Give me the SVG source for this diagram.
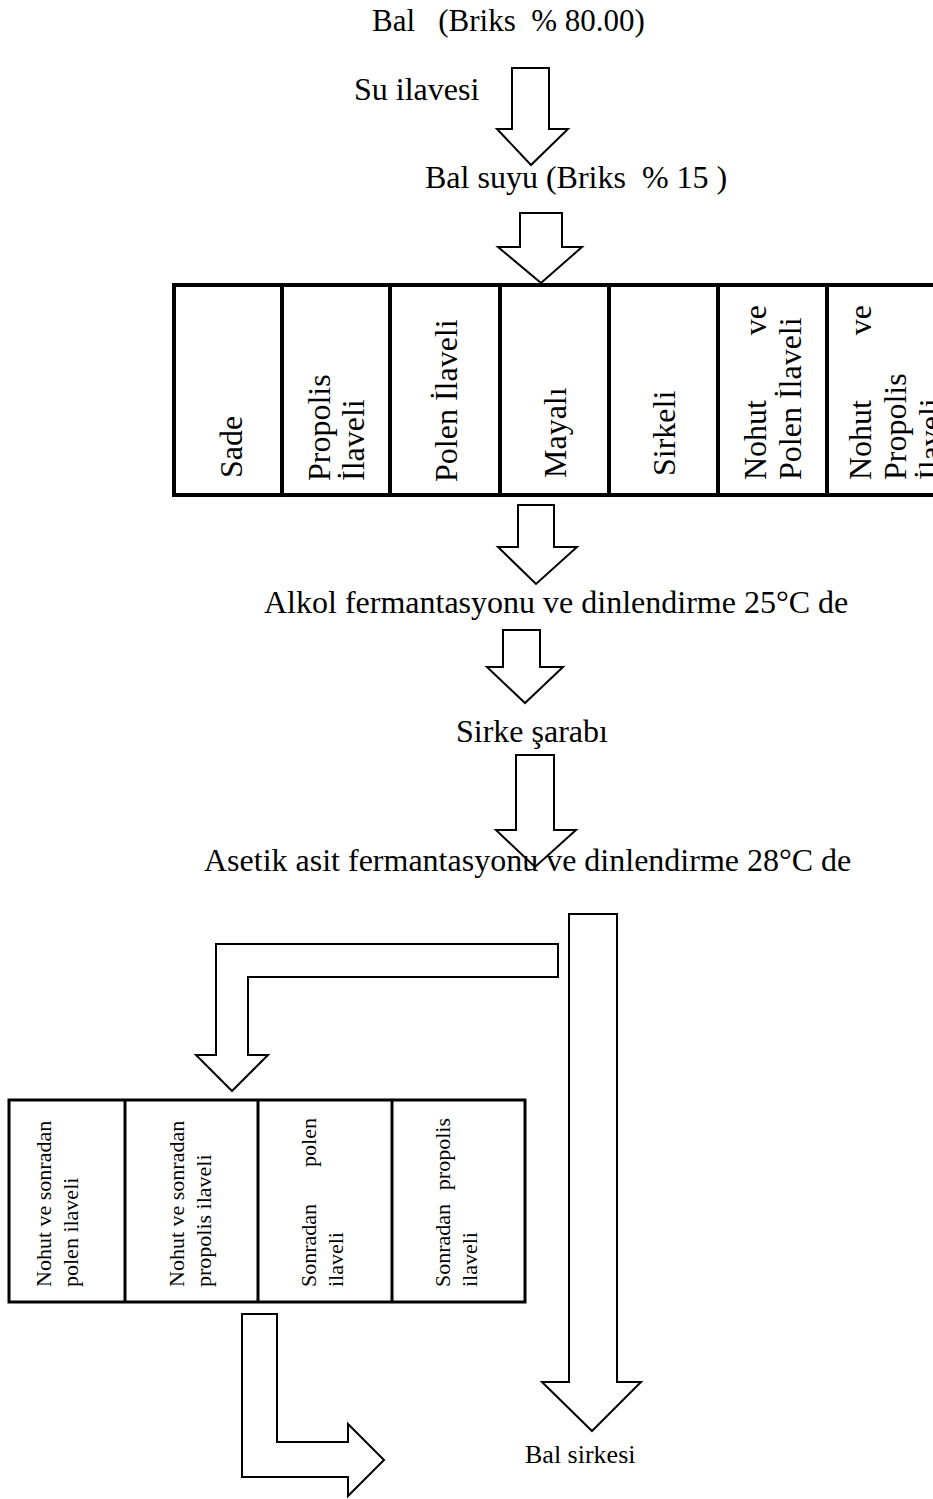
<svg xmlns="http://www.w3.org/2000/svg" width="933" height="1499" viewBox="0 0 933 1499">
<style>
  .t { font-family: "Liberation Serif", "Times New Roman", serif; fill: #000; }
  .lg { font-size: 32px; }
  .tt { font-size: 31px; }
  .sm { font-size: 26px; }
  .cell { font-size: 32px; }
  .bcell { font-size: 22px; }
  .arrow { fill: #fff; stroke: #000; stroke-width: 2; stroke-linejoin: miter; }
  .tbl { fill: #fff; stroke: #000; stroke-width: 4; }
  .tbl2 { fill: #fff; stroke: #000; stroke-width: 3; }
  .div { stroke: #000; stroke-width: 4; }
  .div2 { stroke: #000; stroke-width: 3; }
</style>
<rect x="0" y="0" width="933" height="1499" fill="#fff"/>

<g id="connectors">
  <path class="arrow" d="M512,68 L549,68 L549,129 L568,129 L531,165 L497,129 L512,129 Z"/>
  <path class="arrow" d="M520,213 L562,213 L562,247 L582,247 L541,283 L498,247 L520,247 Z"/>
  <path class="arrow" d="M518,505 L554,505 L554,547 L577,547 L536,584 L498,547 L518,547 Z"/>
  <path class="arrow" d="M503,630 L540,630 L540,667 L563,667 L525,703 L487,667 L503,667 Z"/>
  <path class="arrow" d="M516,755 L554,755 L554,830 L576,830 L535,867 L496,830 L516,830 Z"/>
  <path class="arrow" d="M569,914 L617,914 L617,1382 L641,1382 L592,1431 L542,1382 L569,1382 Z"/>
  <path class="arrow" d="M558,944 L216,944 L216,1055 L196,1055 L232,1091 L268,1055 L248,1055 L248,977 L558,977 Z"/>
  <path class="arrow" d="M242,1314 L277,1314 L277,1442 L348,1442 L348,1424 L384,1460 L348,1496 L348,1477 L242,1477 Z"/>
</g>

<g id="bal">
  <text class="t tt" x="372" y="31" xml:space="preserve">Bal   (Briks  % 80.00)</text>
</g>
<g id="su-ilavesi">
  <text class="t lg" x="354" y="100">Su ilavesi</text>
</g>
<g id="bal-suyu">
  <text class="t lg" x="425" y="188" xml:space="preserve">Bal suyu (Briks  % 15 )</text>
</g>

<g id="top-table">
  <rect class="tbl" x="174" y="285" width="764" height="210"/>
  <line class="div" x1="282" y1="285" x2="282" y2="495"/>
  <line class="div" x1="390" y1="285" x2="390" y2="495"/>
  <line class="div" x1="500" y1="285" x2="500" y2="495"/>
  <line class="div" x1="609" y1="285" x2="609" y2="495"/>
  <line class="div" x1="718" y1="285" x2="718" y2="495"/>
  <line class="div" x1="827" y1="285" x2="827" y2="495"/>
  <g id="c-sade"><text class="t cell" transform="translate(242,478) rotate(-90)">Sade</text></g>
  <g id="c-propolis">
    <text class="t cell" transform="translate(330,481) rotate(-90)">Propolis</text>
    <text class="t cell" transform="translate(364,481) rotate(-90)">İlaveli</text>
  </g>
  <g id="c-polen"><text class="t cell" transform="translate(457,482) rotate(-90)">Polen İlaveli</text></g>
  <g id="c-mayali"><text class="t cell" transform="translate(566,478) rotate(-90)">Mayalı</text></g>
  <g id="c-sirkeli"><text class="t cell" transform="translate(675,476) rotate(-90)">Sirkeli</text></g>
  <g id="c-nohut-polen">
    <text class="t cell" transform="translate(766,480) rotate(-90)">Nohut</text>
    <text class="t cell" text-anchor="end" transform="translate(766,305) rotate(-90)">ve</text>
    <text class="t cell" transform="translate(801,480) rotate(-90)">Polen İlaveli</text>
  </g>
  <g id="c-nohut-propolis">
    <text class="t cell" transform="translate(871,480) rotate(-90)">Nohut</text>
    <text class="t cell" text-anchor="end" transform="translate(871,305) rotate(-90)">ve</text>
    <text class="t cell" transform="translate(906,480) rotate(-90)">Propolis</text>
    <text class="t cell" transform="translate(941,480) rotate(-90)">İlaveli</text>
  </g>
</g>

<g id="alkol">
  <text class="t lg" x="264" y="613">Alkol fermantasyonu ve dinlendirme 25°C de</text>
</g>
<g id="sirke-sarabi">
  <text class="t lg" x="456" y="742">Sirke şarabı</text>
</g>
<g id="asetik">
  <text class="t lg" x="204" y="871">Asetik asit fermantasyonu ve dinlendirme 28°C de</text>
</g>

<g id="bottom-table">
  <rect class="tbl2" x="9" y="1100" width="516" height="202"/>
  <line class="div2" x1="125" y1="1100" x2="125" y2="1302"/>
  <line class="div2" x1="258" y1="1100" x2="258" y2="1302"/>
  <line class="div2" x1="392" y1="1100" x2="392" y2="1302"/>
  <g id="b-nohut-polen">
    <text class="t bcell" transform="translate(51,1287) rotate(-90)">Nohut ve sonradan</text>
    <text class="t bcell" transform="translate(78,1287) rotate(-90)">polen ilaveli</text>
  </g>
  <g id="b-nohut-propolis">
    <text class="t bcell" transform="translate(184,1287) rotate(-90)">Nohut ve sonradan</text>
    <text class="t bcell" transform="translate(211,1287) rotate(-90)">propolis ilaveli</text>
  </g>
  <g id="b-sonradan-polen">
    <text class="t bcell" transform="translate(316,1287) rotate(-90)">Sonradan</text>
    <text class="t bcell" text-anchor="end" transform="translate(316,1118) rotate(-90)">polen</text>
    <text class="t bcell" transform="translate(343,1287) rotate(-90)">ilaveli</text>
  </g>
  <g id="b-sonradan-propolis">
    <text class="t bcell" transform="translate(450,1287) rotate(-90)">Sonradan</text>
    <text class="t bcell" text-anchor="end" transform="translate(450,1118) rotate(-90)">propolis</text>
    <text class="t bcell" transform="translate(477,1287) rotate(-90)">ilaveli</text>
  </g>
</g>

<g id="bal-sirkesi">
  <text class="t sm" x="525" y="1463">Bal sirkesi</text>
</g>
</svg>
